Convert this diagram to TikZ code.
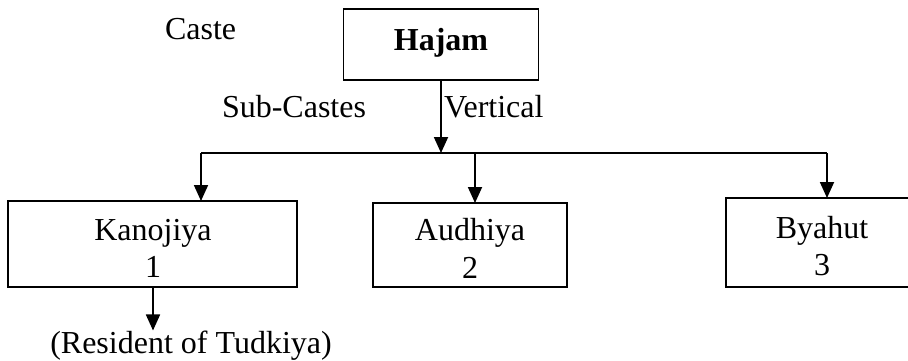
\documentclass[tikz,border=0pt]{standalone}
\usepackage{fontspec}
\setmainfont{Liberation Serif}
\usetikzlibrary{arrows.meta}
\begin{document}
\begin{tikzpicture}[x=1pt,y=-1pt,
  box/.style={draw,line width=1.8pt,inner sep=0,outer sep=0,rectangle},
  lbl/.style={inner sep=0,outer sep=0,anchor=base,font=\fontsize{32}{37}\selectfont},
  arr/.style={line width=1.8pt,-{Triangle[width=14pt,length=16pt]}},
  ln/.style={line width=1.8pt}]
\useasboundingbox (0,0) rectangle (908,360);
\clip (0,0) rectangle (908,360);
% boxes
\node[box,minimum width=195pt,minimum height=71pt] (hajam) at (441,44.5) {};
\node[box,minimum width=289pt,minimum height=86pt] (kan) at (152.5,244) {};
\node[box,minimum width=194pt,minimum height=84pt] (aud) at (470,245) {};
\node[box,minimum width=192pt,minimum height=89pt] (bya) at (822,242.5) {};
% texts
\node[lbl,font=\fontsize{32}{37}\selectfont\bfseries] (hajamt) at (441,50) {Hajam};
\node[lbl,anchor=base west] (caste) at (165,39) {Caste};
\node[lbl,anchor=base west] (sub) at (222,117) {Sub-Castes};
\node[lbl,anchor=base west] (vert) at (444,117) {Vertical};
\node[lbl] (kan1) at (153,240) {Kanojiya};
\node[lbl] (kan2) at (153,277) {1};
\node[lbl] (aud1) at (470,240) {Audhiya};
\node[lbl] (aud2) at (470,278) {2};
\node[lbl] (bya1) at (822,238) {Byahut};
\node[lbl] (bya2) at (822,275) {3};
\node[lbl] (res) at (191,353) {(Resident of Tudkiya)};
% connectors
\coordinate (b1) at (201,153);
\coordinate (b2) at (475,153);
\coordinate (b3) at (827,153);
\coordinate (kx) at (153,0);
\draw[arr] (hajam.south) -- (hajam.south |- b1);
\draw[ln] (b1) -- (b3);
\draw[arr] (b1) -- (b1 |- kan.north);
\draw[arr] (b2) -- (b2 |- aud.north);
\draw[arr] (b3) -- (b3 |- bya.north);
\draw[arr] (kan.south -| kx) -- (res.north -| kx);
\end{tikzpicture}
\end{document}
